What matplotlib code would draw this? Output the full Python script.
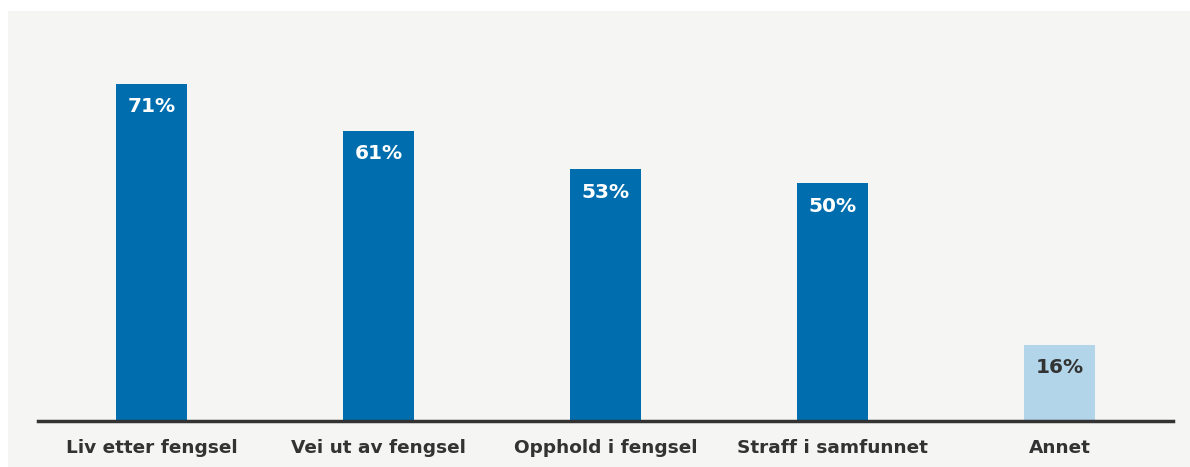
import matplotlib.pyplot as plt
from matplotlib.patches import Rectangle

categories = ['Liv etter fengsel', 'Vei ut av fengsel', 'Opphold i fengsel',
              'Straff i samfunnet', 'Annet']
values = [71, 61, 53, 50, 16]
colors = ['#006eae', '#006eae', '#006eae', '#006eae', '#b3d5e9']
label_colors = ['white', 'white', 'white', 'white', '#333333']

W, H = 1190, 467
fig = plt.figure(figsize=(W / 100, H / 100), dpi=100)
fig.patch.set_facecolor('white')
fig.patches.append(Rectangle((8 / W, 0), 1 - 8 / W, 1 - 11 / H,
                             transform=fig.transFigure, facecolor='#f5f5f4',
                             edgecolor='none', zorder=-1))

# axes: x from 38 to 1173 px, baseline at y=421 px
ax = fig.add_axes([38 / W, (H - 421) / H, (1173 - 38) / W, (421 - 11) / H])
ax.set_facecolor('none')

x = range(len(categories))
bars = ax.bar(x, values, width=0.313, color=colors, zorder=2)
for b, v, c in zip(bars, values, label_colors):
    ax.text(b.get_x() + b.get_width() / 2, v - 2.8, f'{v}%', ha='center', va='top',
            color=c, fontsize=14.5, fontweight='bold', family='DejaVu Sans')

ax.set_xlim(-0.5, 4.5)
ax.set_ylim(0, 86.3)
ax.set_yticks([])
ax.set_xticks(list(x))
ax.set_xticklabels(categories, fontsize=13.3, fontweight='bold', color='#333333')
ax.tick_params(axis='x', length=0, pad=13)
for s in ['top', 'right', 'left']:
    ax.spines[s].set_visible(False)
ax.spines['bottom'].set_color('#333333')
ax.spines['bottom'].set_linewidth(2.5)

fig.savefig('out.png', dpi=100)
